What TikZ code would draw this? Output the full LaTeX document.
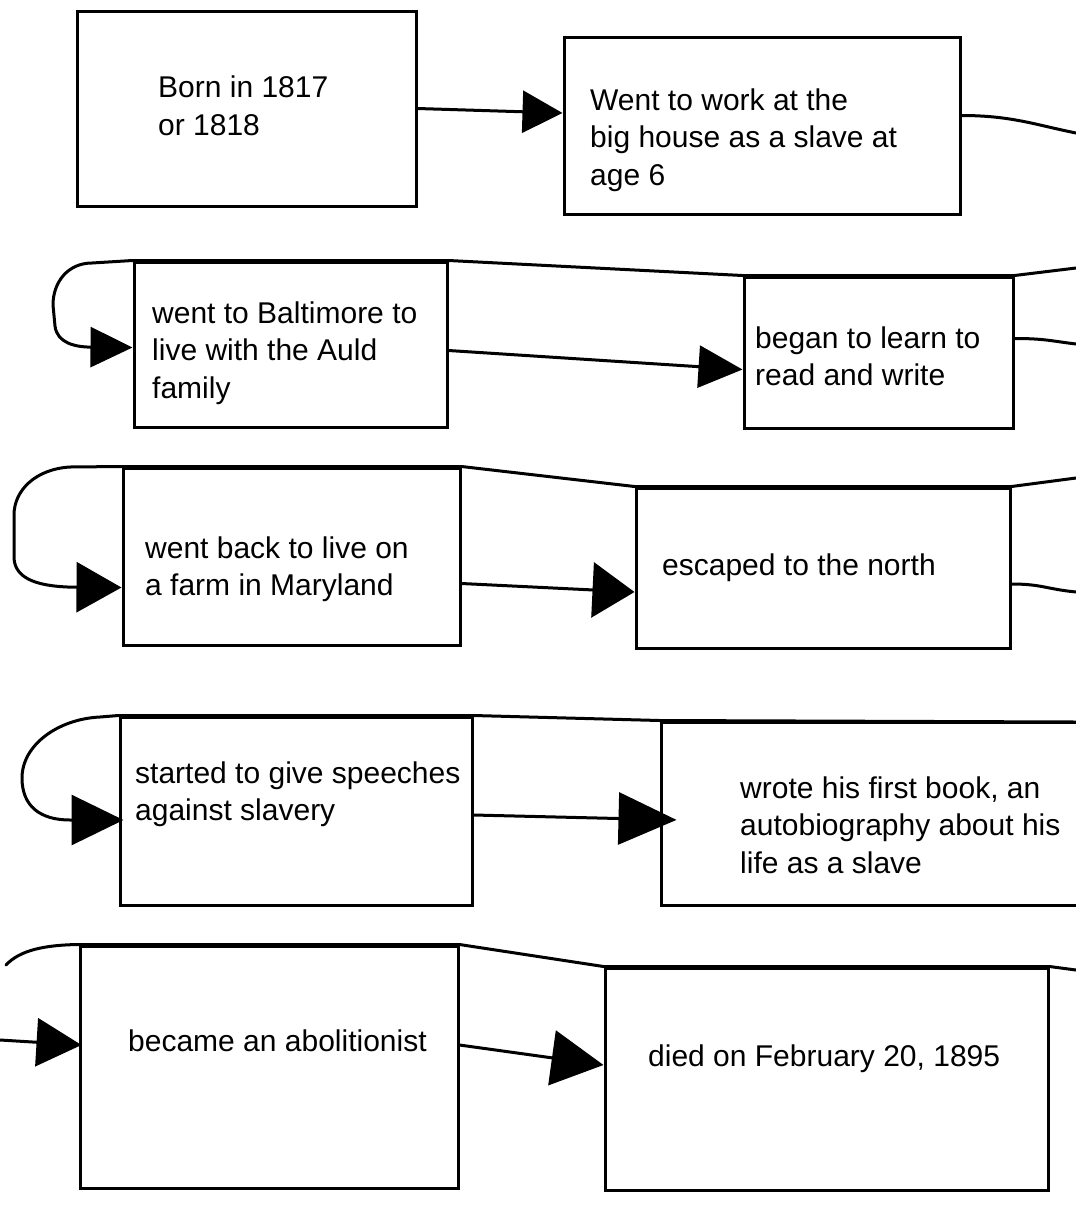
\documentclass[tikz,border=0pt]{standalone}
\usepackage{fontspec}
\setmainfont{Liberation Sans}
\usetikzlibrary{arrows.meta}
\begin{document}
\begin{tikzpicture}[x=1pt,y=-1pt,
  evbox/.style 2 args={draw, line width=3pt, inner sep=0pt, minimum width=#1, minimum height=#2},
  evtext/.style={anchor=north west, inner sep=0pt, align=left, font=\fontsize{30}{37.5}\selectfont},
  link/.style={line width=3pt, line cap=round, line join=round},
  bighead/.style 2 args={-{Triangle[length=#1,width=#2]}},
]
\useasboundingbox (0,0) rectangle (1076,1205);
\clip (0,0) rectangle (1076,1205);
\fill[white] (0,0) rectangle (1076,1205);

% event boxes
\node[evbox={339pt}{195pt}] (b1) at (246.5,108.5) {};
\node[evbox={396pt}{177pt}] (b2) at (762,125.5) {};
\node[evbox={313pt}{165pt}] (b3) at (290.5,344.5) {};
\node[evbox={269pt}{151pt}] (b4) at (878.5,352.5) {};
\node[evbox={337pt}{177pt}] (b5) at (291.5,556.5) {};
\node[evbox={374pt}{160pt}] (b6) at (823,568) {};
\node[evbox={352pt}{188pt}] (b7) at (296,811) {};
\node[evbox={440pt}{183pt}] (b8) at (881,813.5) {};
\node[evbox={378pt}{242pt}] (b9) at (269,1067) {};
\node[evbox={443pt}{222pt}] (b10) at (826.5,1079) {};

% event texts
\node[evtext] (t1) at (158,76) {Born in 1817\\or 1818};
\node[evtext] (t2) at (590,88.5) {Went to work at the\\big house as a slave at\\age 6};
\node[evtext] (t3) at (152,301.5) {went to Baltimore to\\live with the Auld\\family};
\node[evtext] (t4) at (755,326.5) {began to learn to\\read and write};
\node[evtext] (t5) at (145,536.5) {went back to live on\\a farm in Maryland};
\node[evtext] (t6) at (662,553.5) {escaped to the north};
\node[evtext] (t7) at (135,761.5) {started to give speeches\\against slavery};
\node[evtext] (t8) at (740,776.5) {wrote his first book, an\\autobiography about his\\life as a slave};
\node[evtext] (t9) at (128,1029.5) {became an abolitionist};
\node[evtext] (t10) at (648,1044.5) {died on February 20, 1895};

% ends of the lines at the page edges
\coordinate (e1) at (1076,133);
\coordinate (s2) at (1076,268);
\coordinate (e2) at (1076,344);
\coordinate (s3) at (1076,478);
\coordinate (e3) at (1076,592);
\coordinate (s4) at (1076,722);
\coordinate (s5) at (1076,970);
\coordinate (w5) at (0,1040);
\coordinate (w5top) at (6,965);

% row 1
\draw[link, bighead={40pt}{42pt}] (b1.east) -- ([yshift=12.5pt]b2.west);
\draw[link] ([yshift=10pt]b2.east) .. controls +(50,0) and +(-40,-8) .. (e1);

% row 2
\draw[link, bighead={42pt}{40pt}] (s2) -- (b4.north east) -- (b4.north west)
  -- (b3.north east) -- (b3.north west) -- (92,263)
  .. controls (68,263) and (53,282) .. (53,305) -- (55,326)
  .. controls (57,343) and (75,347) .. ([yshift=-3pt]b3.west);
\draw[link, bighead={44pt}{42pt}] ([yshift=-6pt]b3.east) -- ([yshift=-17pt]b4.west);
\draw[link] ([yshift=14pt]b4.east) .. controls +(30,0) and +(-25,-3) .. (e2);

% row 3
\draw[link, bighead={45pt}{50pt}] (s3) -- (b6.north east) -- (b6.north west)
  -- (b5.north east) -- (b5.north west) -- (70,467)
  .. controls (36,469) and (14,490) .. (14,515) -- (14,558)
  .. controls (15,580) and (40,587) .. ([yshift=-31pt]b5.west);
\draw[link, bighead={42pt}{55pt}] ([yshift=-27pt]b5.east) -- ([yshift=-24pt]b6.west);
\draw[link] ([yshift=-16pt]b6.east) .. controls +(30,0) and +(-30,-3) .. (e3);

% row 4
\draw[link, bighead={52pt}{50pt}] (s4) -- (b8.north west) -- (b7.north east)
  -- (b7.north west) -- (100,717)
  .. controls (58,719) and (22,745) .. (22,778)
  .. controls (22,806) and (40,820) .. (70,820) -- ([yshift=-9pt,xshift=5pt]b7.west);
\draw[link, bighead={58pt}{52pt}, shorten >=-17pt] ([yshift=-4pt]b7.east) -- ([yshift=-6pt]b8.west);

% row 5
\draw[link] (s5) -- (b10.north east) -- (b10.north west) -- (b9.north east)
  -- (b9.north west) .. controls (45,945) and (20,950) .. (w5top);
\draw[link, bighead={45pt}{48pt}] (w5) -- ([yshift=22pt,xshift=3pt]b9.west);
\draw[link, bighead={52pt}{55pt}] ([yshift=22pt]b9.east) -- ([yshift=14pt]b10.west);
\end{tikzpicture}
\end{document}
